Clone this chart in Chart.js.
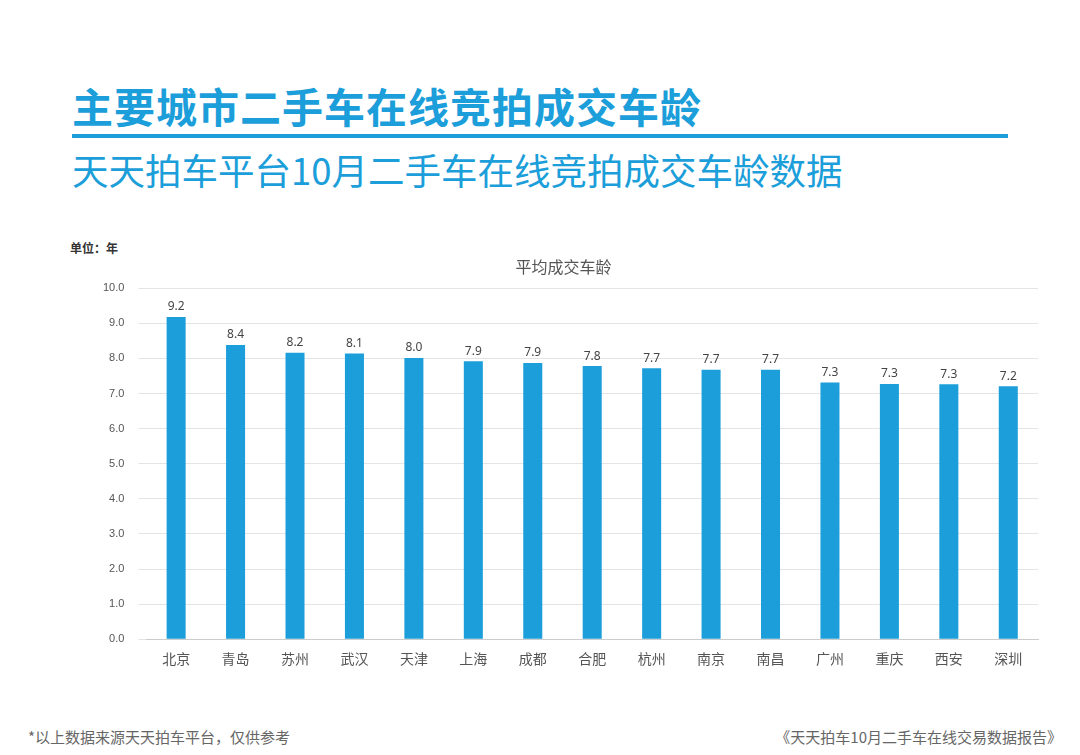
<!DOCTYPE html>
<html>
<head>
<meta charset="utf-8">
<script src="https://cdn.jsdelivr.net/npm/chart.js@4/dist/chart.umd.min.js"></script>
<style>
  body { margin: 0; width: 1080px; height: 755px; background: #fff; font-family: "Noto Sans CJK SC", "Noto Sans", sans-serif; position: relative; overflow: hidden; }
  .title { position: absolute; left: 72px; top: 75px; font-size: 41px; font-weight: bold; color: #1b9ed9; letter-spacing: 1px; }
  .rule { position: absolute; left: 72px; top: 134px; width: 936px; height: 4px; background: #1b9ed9; }
  .sub { position: absolute; left: 72px; top: 143px; font-size: 36.5px; color: #1b9ed9; }
  .unit { position: absolute; left: 70px; top: 239px; font-size: 12px; color: #333; font-weight: bold; }
  .foot-l { position: absolute; left: 28px; top: 726px; font-size: 15px; color: #666; }
  .foot-r { position: absolute; right: 18px; top: 726px; font-size: 15px; color: #666; }
  #wrap { position: absolute; left: 60px; top: 257px; width: 990px; height: 413px; }
</style>
</head>
<body>
<div class="title">主要城市二手车在线竞拍成交车龄</div>
<div class="rule"></div>
<div class="sub">天天拍车平台10月二手车在线竞拍成交车龄数据</div>
<div class="unit">单位：年</div>
<div id="wrap"><canvas id="c"></canvas></div>
<div class="foot-l">*以上数据来源天天拍车平台，仅供参考</div>
<div class="foot-r">《天天拍车10月二手车在线交易数据报告》</div>
<script>
const cities = ['北京', '青岛', '苏州', '武汉', '天津', '上海', '成都', '合肥', '杭州', '南京', '南昌', '广州', '重庆', '西安', '深圳'];
const ages = [9.18, 8.38, 8.16, 8.14, 8.01, 7.92, 7.87, 7.78, 7.72, 7.68, 7.68, 7.31, 7.27, 7.26, 7.21];

const valueLabels = {
    id: 'valueLabels',
    afterDatasetsDraw(chart) {
        const ctx = chart.ctx;
        const meta = chart.getDatasetMeta(0);
        ctx.save();
        ctx.font = '12px "Noto Sans", sans-serif';
        ctx.fillStyle = '#444';
        ctx.textAlign = 'center';
        ctx.textBaseline = 'bottom';
        meta.data.forEach((bar, i) => {
            ctx.fillText(ages[i].toFixed(1), bar.x, bar.y - 4);
        });
        ctx.restore();
    },
};

new Chart(document.getElementById('c'), {
    type: 'bar',
    data: {
        labels: cities,
        datasets: [{
            data: ages,
            backgroundColor: '#1b9ed9',
            barPercentage: 0.32,
            categoryPercentage: 1,
        }],
    },
    options: {
        responsive: true,
        maintainAspectRatio: false,
        animation: false,
        layout: { padding: { right: 12, left: 29 } },
        plugins: {
            legend: { display: false },
            tooltip: { enabled: false },
            title: {
                display: true,
                text: '平均成交车龄',
                color: '#555',
                font: { size: 16, family: '"Noto Sans CJK SC", sans-serif', weight: 'normal' },
                padding: { top: 0, bottom: 12 },
            },
        },
        scales: {
            x: {
                grid: { display: false },
                border: { color: '#ccc' },
                ticks: { color: '#555', font: { size: 14, family: '"Noto Sans CJK SC", sans-serif' } },
            },
            y: {
                min: 0,
                max: 10,
                ticks: { stepSize: 1, color: '#555', font: { size: 11 }, padding: 14, callback: v => v.toFixed(1) },
                grid: { color: '#e4e4e4' },
                border: { display: false },
            },
        },
    },
    plugins: [valueLabels],
});
</script>
</body>
</html>
